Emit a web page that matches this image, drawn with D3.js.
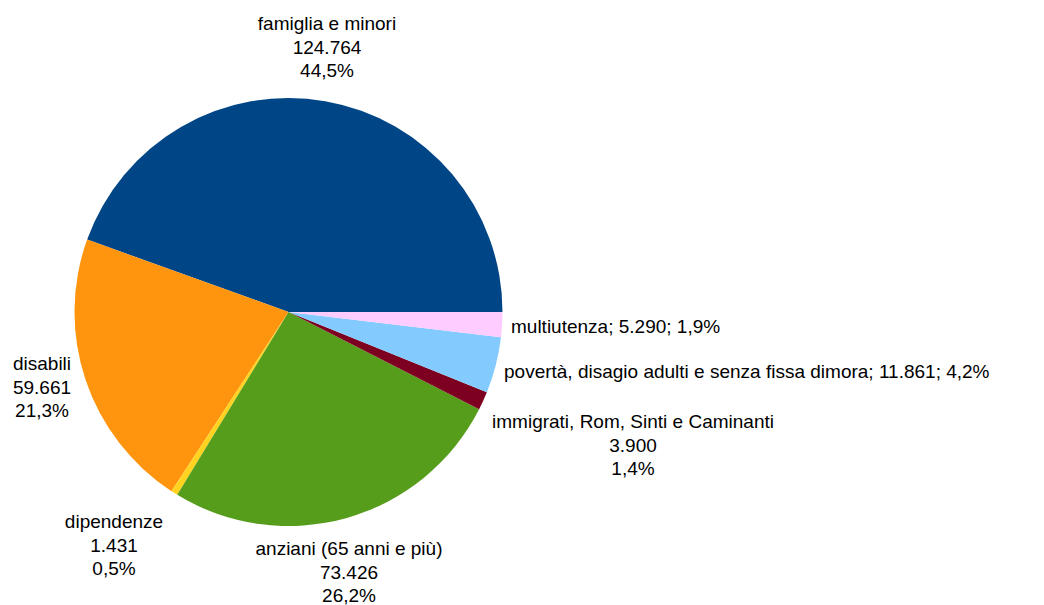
<!DOCTYPE html>
<html>
<head>
<meta charset="utf-8">
<script src="https://cdn.jsdelivr.net/npm/d3@7"></script>
<style>
  body { margin: 0; background: #fff; }
  svg { display: block; }
  text { font-family: "Liberation Sans", Arial, sans-serif; font-size: 19px; fill: #000; }
</style>
</head>
<body>
<svg id="chart" width="1044" height="605"></svg>
<script>
// Data
const categories = [
  "famiglia e minori",
  "disabili",
  "dipendenze",
  "anziani (65 anni e più)",
  "immigrati, Rom, Sinti e Caminanti",
  "povertà, disagio adulti e senza fissa dimora",
  "multiutenza"
];
const values = [124764, 59661, 1431, 73426, 3900, 11861, 5290];
const colours = ["#004586", "#ff950e", "#ffd320", "#579d1c", "#7e0021", "#83caff", "#ffccff"];

// Label layout (x, baseline y of first line, anchor, single line or stacked)
const labelLayout = [
  { x: 327, y: 30, anchor: "middle", inline: false },
  { x: 42, y: 370, anchor: "middle", inline: false },
  { x: 114, y: 528, anchor: "middle", inline: false },
  { x: 349, y: 555, anchor: "middle", inline: false },
  { x: 633, y: 428, anchor: "middle", inline: false },
  { x: 504, y: 378, anchor: "start", inline: true },
  { x: 511, y: 333, anchor: "start", inline: true }
];

const width = 1044, height = 605;
const cx = 288.5, cy = 312, radius = 214;
const lineH = 23.5;

// Italian number format
const it = d3.formatLocale({ decimal: ",", thousands: ".", grouping: [3], currency: ["€", ""] });
const fmtNum = it.format(",d");
const fmtPct = it.format(".1%");

const total = d3.sum(values);
const data = categories.map((c, i) => ({ name: c, value: values[i], colour: colours[i], layout: labelLayout[i] }));

// Pie starts at 3 o'clock and runs counterclockwise
const pie = d3.pie()
  .sort(null)
  .value(d => d.value)
  .startAngle(Math.PI / 2)
  .endAngle(Math.PI / 2 - 2 * Math.PI);

const arc = d3.arc().innerRadius(0).outerRadius(radius);

const svg = d3.select("#chart");

svg.append("g")
    .attr("transform", `translate(${cx}, ${cy})`)
  .selectAll("path")
  .data(pie(data))
  .join("path")
    .attr("d", arc)
    .attr("fill", d => d.data.colour);

// Labels
const labels = svg.append("g")
  .selectAll("text")
  .data(data)
  .join("text")
    .attr("x", d => d.layout.x)
    .attr("y", d => d.layout.y)
    .attr("text-anchor", d => d.layout.anchor);

labels.each(function(d) {
  const t = d3.select(this);
  const parts = [d.name, fmtNum(d.value), fmtPct(d.value / total)];
  if (d.layout.inline) {
    t.text(parts.join("; "));
  } else {
    parts.forEach((p, i) => {
      t.append("tspan")
        .attr("x", d.layout.x)
        .attr("dy", i === 0 ? 0 : lineH)
        .text(p);
    });
  }
});
</script>
</body>
</html>
